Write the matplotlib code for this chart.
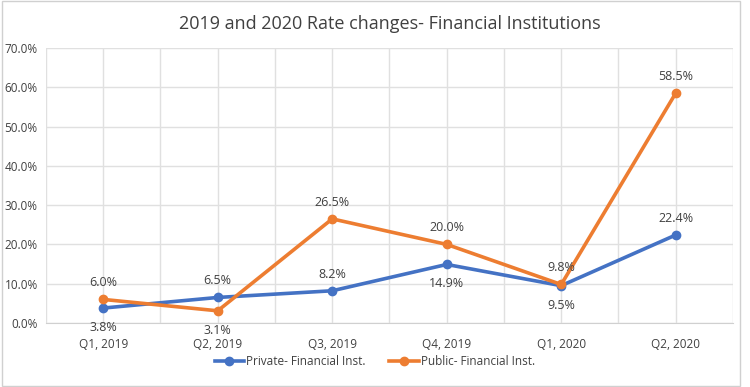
import matplotlib.pyplot as plt
from matplotlib.patches import Rectangle

quarters = ["Q1, 2019", "Q2, 2019", "Q3, 2019", "Q4, 2019", "Q1, 2020", "Q2, 2020"]
private = [3.8, 6.5, 8.2, 14.9, 9.5, 22.4]
public = [6.0, 3.1, 26.5, 20.0, 9.8, 58.5]
private_pos = ["below", "above", "above", "below", "below", "above"]
public_pos = ["above", "below", "above", "above", "above", "above"]

blue = "#4472C4"
orange = "#ED7D31"
txt = "#404040"

plt.rcParams["font.family"] = ["Open Sans", "DejaVu Sans"]

fig = plt.figure(figsize=(7.5, 3.87), dpi=100)
ax = fig.add_axes([0.0613, 0.1654, 0.9160, 0.7106])

x = list(range(len(quarters)))
ax.plot(x, private, color=blue, lw=2.6, marker="o", ms=6, label="Private- Financial Inst.", zorder=3)
ax.plot(x, public, color=orange, lw=2.6, marker="o", ms=6, label="Public- Financial Inst.", zorder=4)

for vals, pos in [(private, private_pos), (public, public_pos)]:
    for i, (v, p) in enumerate(zip(vals, pos)):
        dy = 12 if p == "above" else -14
        ax.annotate(f"{v:.1f}%", (i, v), xytext=(0, dy), textcoords="offset points",
                    ha="center", va="center", fontsize=9, color=txt, zorder=5)

ax.set_xlim(-0.5, 5.5)
ax.set_ylim(0, 70)
ax.set_yticks(range(0, 71, 10))
ax.set_yticklabels([f"{t:.1f}%" for t in range(0, 71, 10)])
ax.set_xticks(x)
ax.set_xticklabels(quarters)
ax.set_xticks([i + 0.5 for i in range(-1, 6)], minor=True)
ax.tick_params(axis="both", which="both", length=0, labelsize=8.5, colors=txt)
ax.tick_params(axis="y", pad=6)
ax.tick_params(axis="x", pad=11)
ax.grid(True, which="both", color="#E0E0E0", lw=1)
ax.set_axisbelow(True)
for s in ["top", "right", "left"]:
    ax.spines[s].set_visible(False)
ax.spines["bottom"].set_color("#D0D0D0")

ax.set_title("2019 and 2020 Rate changes- Financial Institutions", fontsize=13, color=txt, pad=14)

fig.legend(loc="center", bbox_to_anchor=(0.5, 0.065), ncol=2, frameon=False,
           fontsize=8.5, labelcolor=txt, handlelength=2.5, columnspacing=2, handletextpad=0.2)

fig.patches.append(Rectangle((0.002, 0.003), 0.985, 0.994, transform=fig.transFigure,
                             fill=False, edgecolor="#D0D0D0", lw=1))

fig.savefig("out.png", dpi=100)
